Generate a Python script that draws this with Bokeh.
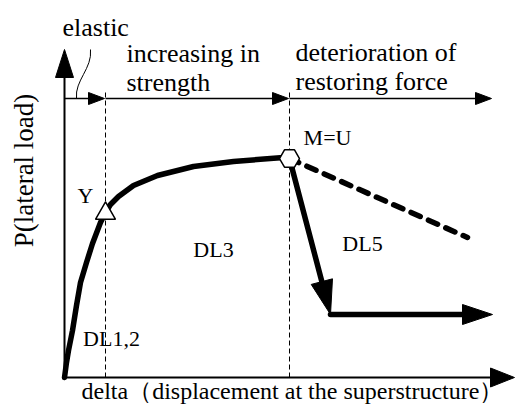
import math
from bokeh.plotting import figure
from bokeh.embed import file_html
from bokeh.resources import INLINE
from bokeh.core.properties import value

# ---- data (schematic units: delta to the right, P upward) ----
curve_delta = [0, 2, 4, 8, 12, 16, 22, 28, 36, 41, 46, 54, 69, 93, 129, 169, 219, 225]
curve_P = [0, 15, 27, 47, 72, 95, 115, 134, 155, 165, 173, 181, 192, 202, 211, 216, 220, 220]
yield_pt = [41, 164]
ult_pt = [225, 219]
soft_end = [403, 140]
drop_end = [266, 63]
residual_end = [428, 63]
stage_x = [0, 41, 225, 428]
stage_y = 279
dash_top = 288
x_axis_end = 450
y_axis_end = 328
wave_x = [26, 28, 10, 12]
wave_y = [328, 309, 297, 279]

labels_txt = ["Y", "DL3", "DL5", "DL1,2", "M=U"]
labels_x = [21, 149, 298, 47, 263]
labels_y = [182, 128, 134, 39, 240]

stage_txt = ["elastic", "increasing in", "strength", "deterioration of", "restoring force"]
stage_tx = [-2, 62, 62, 231, 231]
stage_ty = [350, 324, 295, 325, 296]

FONT = value("Liberation Serif")

p = figure(width=516, height=404, x_range=(-64, 452), y_range=(-27, 377),
           output_backend="svg", toolbar_location=None, min_border=0,
           x_axis_type=None, y_axis_type=None)
p.grid.visible = False
p.outline_line_color = None


def head(tip, tail, length, width):
    dx, dy = tip[0] - tail[0], tip[1] - tail[1]
    d = math.hypot(dx, dy)
    ux, uy = dx / d, dy / d
    nx, ny = -uy, ux
    bx, by = tip[0] - ux * length, tip[1] - uy * length
    xs = [tip[0], bx + nx * width / 2, bx - nx * width / 2]
    ys = [tip[1], by + ny * width / 2, by - ny * width / 2]
    return xs, ys, (bx, by)


def arrow(tail, tip, length, width, lw, cap="butt"):
    xs, ys, base = head(tip, tail, length, width)
    p.line([tail[0], base[0] + (tip[0] - base[0]) * 0.2], [tail[1], base[1] + (tip[1] - base[1]) * 0.2],
           line_width=lw, line_color="black", line_cap=cap)
    p.patch(xs, ys, fill_color="black", line_color="black", line_width=1)


# axes
arrow((0, 0), (0, y_axis_end), 28, 18, 2)
arrow((0, 0), (x_axis_end, 0), 24, 19, 2)

# stage boundaries
for sx in stage_x[1:3]:
    p.line([sx, sx], [0, dash_top], line_width=1, line_color="black", line_dash="5 3")

# stage arrows on top
for a, b in zip(stage_x[:-1], stage_x[1:]):
    arrow((a, stage_y), (b - 1, stage_y), 16, 12, 1.5)

# wavy pointer for elastic
p.bezier(x0=[wave_x[0]], y0=[wave_y[0]], cx0=[wave_x[1]], cy0=[wave_y[1]],
         cx1=[wave_x[2]], cy1=[wave_y[2]], x1=[wave_x[3]], y1=[wave_y[3]],
         line_width=1, line_color="black")

# skeleton curve
p.line(curve_delta, curve_P, line_width=5.5, line_color="black", line_join="round", line_cap="round")
p.line([ult_pt[0], soft_end[0]], [ult_pt[1], soft_end[1]], line_width=5.5, line_color="black",
       line_dash="10 9", line_cap="round")
arrow(tuple(ult_pt), tuple(drop_end), 34, 22, 5.5, cap="round")
arrow(tuple(drop_end), tuple(residual_end), 30, 20, 5.5, cap="round")

# markers
p.scatter([yield_pt[0]], [yield_pt[1]], marker="triangle", size=20, fill_color="white",
          line_color="black", line_width=1.5)
p.scatter([ult_pt[0]], [ult_pt[1]], marker="hex", size=20, fill_color="white",
          line_color="black", line_width=1.5)

# texts
p.text(stage_tx, stage_ty, text=stage_txt, text_font=FONT, text_font_size="26px",
       text_baseline="alphabetic", text_align="left", text_color="black")
p.text(labels_x, labels_y, text=labels_txt, text_font=FONT, text_font_size="22px",
       text_baseline="middle", text_align="center", text_color="black")
p.text([-41], [207], text=["P(lateral load)"], text_font=FONT, text_font_size="27px",
       angle=math.pi / 2, text_baseline="middle", text_align="center", text_color="black")
p.text([17], [-26.5], text=["delta（displacement at the superstructure）"], text_font=FONT,
       text_font_size="24px", text_baseline="bottom", text_align="left", text_color="black")

open("out.html", "w").write(file_html(p, INLINE))
